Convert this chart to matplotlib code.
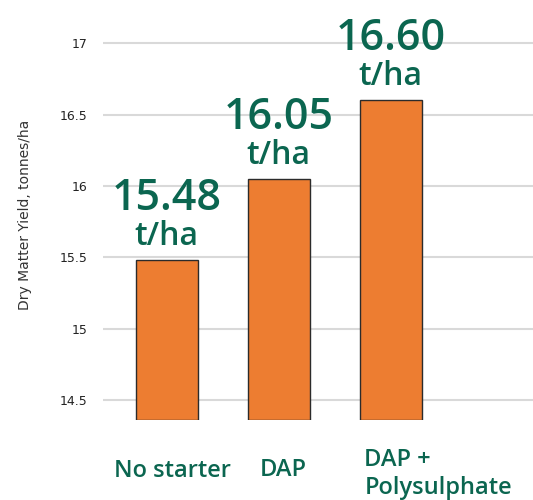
import numpy as np
import matplotlib.pyplot as plt
import matplotlib.transforms as mtransforms

categories = ['No starter', 'DAP', 'DAP +\nPolysulphate']
yields = [15.48, 16.05, 16.60]
value_labels = ['15.48', '16.05', '16.60']
y_ticks = [14.5, 15, 15.5, 16, 16.5, 17]

green = '#0b6650'
orange = '#ed7d31'
font = 'Open Sans'

fig = plt.figure(figsize=(5.33, 5.0), dpi=100)
ax = fig.add_axes([0.193, 0.16, 0.807, 0.84])

x = np.arange(len(categories))
bottom = 14.36
ax.bar(x, np.array(yields) - bottom, bottom=bottom, width=0.55,
       color=orange, edgecolor='#2b2b2b', linewidth=1.0, zorder=3)

ax.set_xlim(-0.57, 3.27)
ax.set_ylim(bottom, 17.303)
ax.set_yticks(y_ticks)
ax.set_yticklabels(['14.5', '15', '15.5', '16', '16.5', '17'])
ax.tick_params(axis='y', length=0, pad=11, labelsize=9, labelcolor='#222222')
ax.set_xticks([])
ax.grid(axis='y', color='#d9d9d9', linewidth=1.5, zorder=0)
for s in ax.spines.values():
    s.set_visible(False)

# value labels above the bars
for xi, v, lab in zip(x, yields, value_labels):
    ax.annotate(lab, (xi, v), xytext=(0, 36), textcoords='offset points',
                ha='center', va='baseline', fontsize=31, fontweight='semibold',
                color=green, family=font)
    ax.annotate('t/ha', (xi, v), xytext=(0, 11), textcoords='offset points',
                ha='center', va='baseline', fontsize=23, fontweight='semibold',
                color=green, family=font)

# category labels (x in data units, y in figure fraction)
trans = mtransforms.blended_transform_factory(ax.transData, fig.transFigure)
kw = dict(fontsize=17, fontweight='semibold', color=green, family=font,
          va='baseline', transform=trans)
fig.text(0.05, 1 - 477 / 500, categories[0], ha='center', **kw)
fig.text(1.04, 1 - 476 / 500, categories[1], ha='center', **kw)
line1, line2 = categories[2].split('\n')
fig.text(2 - 0.235, 1 - 466 / 500, line1, ha='left', **kw)
fig.text(2 - 0.235, 1 - 494 / 500, line2, ha='left', **kw)

fig.text(0.047, 0.57, 'Dry Matter Yield, tonnes/ha', rotation=90,
         ha='center', va='center', fontsize=10, color='#333333')

fig.savefig('out.png', dpi=100)
